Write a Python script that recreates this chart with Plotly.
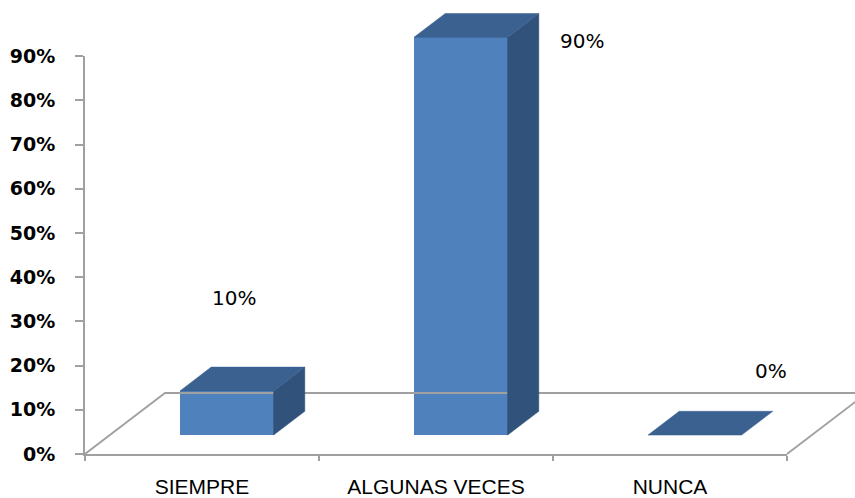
import plotly.graph_objects as go

# ---- data ----
categories = ["SIEMPRE", "ALGUNAS VECES", "NUNCA"]
values = [0.10, 0.90, 0.00]
y_tick_values = [0.0, 0.1, 0.2, 0.3, 0.4, 0.5, 0.6, 0.7, 0.8, 0.9]
y_tick_labels = ["0%", "10%", "20%", "30%", "40%", "50%", "60%", "70%", "80%", "90%"]

# value label placement, pixel nudges from the top-front of each bar
label_dx = [7, 121, 76]
label_dy = [93, -4, 64]

# ---- page / pseudo-3D geometry (pixels) ----
W, H = 855, 498
M_L, M_R, M_T, M_B = 85, 0, 0, 36
PLOT_W, PLOT_H = W - M_L - M_R, H - M_T - M_B
CAT_PX = 234            # width of one category on the front plane
UNIT_PX = 442           # pixels per 100 % on the value axis
BASE_PX = 454           # page y of the 0 % line
FLOOR_DX_PX, FLOOR_DY_PX = 80, 61
F_FRONT, F_BACK = 0.31, 0.70   # bar front/back as a fraction of floor depth
BAR_W = 0.40

DX = FLOOR_DX_PX / CAT_PX
DY = FLOOR_DY_PX / UNIT_PX
x_range = [-0.5, -0.5 + PLOT_W / CAT_PX]
y_range = [-(M_T + PLOT_H - BASE_PX) / UNIT_PX, (BASE_PX - M_T) / UNIT_PX]

C_FRONT = "#4F81BD"
C_TOP = "#3B6191"
C_SIDE = "#31527B"
C_AXIS = "#A0A0A0"

fig = go.Figure()

# floor outline (left, back and right edges; the front edge is the category axis)
n = len(categories)
floor_x = [-0.5, -0.5 + DX, n - 0.5 + DX + 1.0, None, n - 0.5, n - 0.5 + DX + 0.2]
floor_y = [0, DY, DY, None, 0, DY + 0.2 * DY / DX]
fig.add_trace(go.Scatter(x=floor_x, y=floor_y, mode="lines",
                         line=dict(color=C_AXIS, width=1.8),
                         hoverinfo="skip", showlegend=False))

fx_front, fy_front = F_FRONT * DX, F_FRONT * DY
ddx, ddy = (F_BACK - F_FRONT) * DX, (F_BACK - F_FRONT) * DY

for i, v in enumerate(values):
    xl = i - BAR_W / 2 + fx_front
    xr = i + BAR_W / 2 + fx_front
    yb = fy_front
    yt = fy_front + v
    # right side face
    if v > 0:
        fig.add_trace(go.Scatter(
            x=[xr, xr + ddx, xr + ddx, xr, xr],
            y=[yb, yb + ddy, yt + ddy, yt, yb],
            mode="lines", fill="toself", fillcolor=C_SIDE,
            line=dict(color=C_SIDE, width=0.5),
            hoverinfo="skip", showlegend=False))
    # top face
    fig.add_trace(go.Scatter(
        x=[xl, xr, xr + ddx, xl + ddx, xl],
        y=[yt, yt, yt + ddy, yt + ddy, yt],
        mode="lines", fill="toself", fillcolor=C_TOP,
        line=dict(color=C_TOP, width=0.5),
        hoverinfo="skip", showlegend=False))

# front faces
fig.add_trace(go.Bar(
    x=[i + fx_front for i in range(n)], y=values, base=fy_front,
    width=BAR_W, marker=dict(color=C_FRONT, line=dict(width=0)),
    hoverinfo="skip", showlegend=False))

# value labels
for i, v in enumerate(values):
    fig.add_annotation(
        x=i + fx_front, y=fy_front + v, text=f"{v:.0%}",
        showarrow=False, xshift=label_dx[i], yshift=label_dy[i],
        font=dict(family="DejaVu Sans", size=20, color="#000000"))

# front-plane axes (category axis and percentage axis)
fig.add_trace(go.Scatter(x=categories, y=values, xaxis="x2", yaxis="y2",
                         mode="markers", marker=dict(opacity=0),
                         hoverinfo="skip", showlegend=False))

front_frac = (n * CAT_PX) / PLOT_W
y2_lo = (M_T + PLOT_H - BASE_PX) / PLOT_H
y2_hi = (M_T + PLOT_H - (BASE_PX - 0.9 * UNIT_PX)) / PLOT_H

fig.update_layout(
    width=W, height=H,
    margin=dict(l=M_L, r=M_R, t=M_T, b=M_B, pad=0, autoexpand=False),
    paper_bgcolor="white", plot_bgcolor="rgba(0,0,0,0)",
    bargap=0,
    xaxis=dict(domain=[0, 1], range=x_range, visible=False, fixedrange=True,
               automargin=False),
    yaxis=dict(domain=[0, 1], range=y_range, visible=False, fixedrange=True,
               automargin=False),
    xaxis2=dict(domain=[0, front_frac], anchor="y2", type="category",
                categoryorder="array", categoryarray=categories,
                range=[-0.5, n - 0.5], automargin=False,
                showline=True, linecolor=C_AXIS, linewidth=1.8,
                ticks="outside", tickson="boundaries", ticklen=5,
                tickcolor=C_AXIS, tickwidth=1.8,
                showgrid=False, zeroline=False, ticklabelstandoff=13,
                tickfont=dict(family="Liberation Sans", size=21, color="#000000")),
    yaxis2=dict(domain=[y2_lo, y2_hi], anchor="x2", range=[0, 0.9],
                automargin=False,
                showline=True, linecolor=C_AXIS, linewidth=1.8,
                ticks="outside", ticklen=8, tickcolor=C_AXIS, tickwidth=1.8,
                tickvals=y_tick_values, ticktext=y_tick_labels,
                showgrid=False, zeroline=False, ticklabelstandoff=16,
                tickfont=dict(family="DejaVu Sans", size=19, color="#000000",
                              weight="bold")),
)

fig.write_html("out.html")
